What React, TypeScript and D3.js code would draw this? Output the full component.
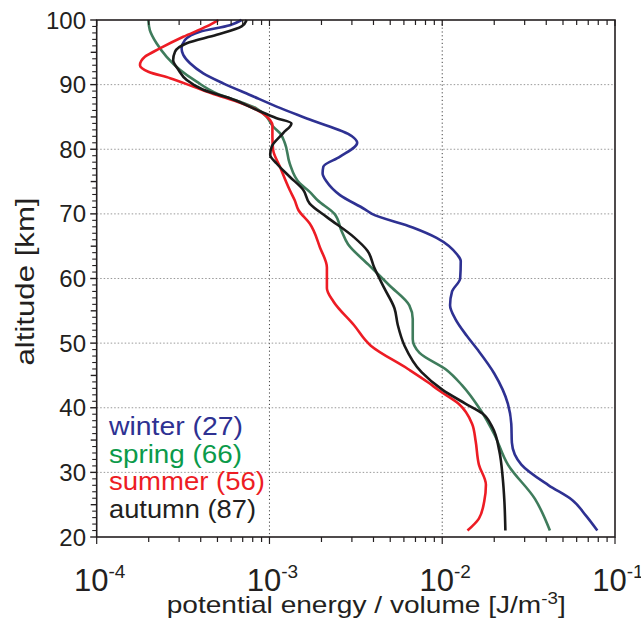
import React from "react";
import * as d3 from "d3";

const winterAlt = [100, 99.2, 98.2, 96.9, 95.6, 94.6, 93.3, 91.75, 90.2, 88.4, 86.6, 84.6, 82.05, 81.0, 78.85, 77.3, 76.3, 75.0, 72.9, 70.7, 70.0, 67.9, 66.3, 63.7, 62.7, 60.0, 58.0, 55.85, 53.75, 51.1, 49.0, 45.3, 40.6, 37.5, 34.6, 31.2, 28.0, 25.7, 23.3, 21];
const winterVal = [6.9e-4, 5.9e-4, 3.96e-4, 3.24e-4, 3.1e-4, 3.17e-4, 3.47e-4, 4.14e-4, 5.4e-4, 7.71e-4, 1.1e-3, 1.71e-3, 2.99e-3, 3.22e-3, 2.56e-3, 2.05e-3, 2.03e-3, 2.14e-3, 2.56e-3, 3.57e-3, 3.92e-3, 6.75e-3, 9.27e-3, 1.22e-2, 1.28e-2, 1.27e-2, 1.14e-2, 1.11e-2, 1.19e-2, 1.39e-2, 1.6e-2, 2.0e-2, 2.4e-2, 2.51e-2, 2.53e-2, 2.87e-2, 4.13e-2, 5.67e-2, 6.79e-2, 7.9e-2];

const springAlt = [100, 98.45, 96.4, 94.3, 92.3, 90.45, 88.65, 87.35, 86.3, 85.0, 83.5, 82.5, 80.9, 77.8, 74.7, 73.4, 72.1, 70.0, 67.4, 65.3, 62.15, 59.0, 55.85, 53.75, 50.6, 48.5, 45.85, 43.5, 39.6, 35.9, 31.2, 25.9, 21];
const springVal = [1.99e-4, 2.03e-4, 2.22e-4, 2.54e-4, 3.03e-4, 3.79e-4, 4.95e-4, 6.75e-4, 8.43e-4, 9.63e-4, 1.05e-3, 1.15e-3, 1.23e-3, 1.31e-3, 1.5e-3, 1.71e-3, 1.9e-3, 2.38e-3, 2.61e-3, 2.85e-3, 3.74e-3, 4.92e-3, 6.45e-3, 6.75e-3, 6.75e-3, 7.39e-3, 1.06e-2, 1.3e-2, 1.67e-2, 2.0e-2, 2.4e-2, 3.44e-2, 4.2e-2];

const summerAlt = [100, 99.0, 97.4, 95.6, 94.3, 93.0, 92.0, 91.0, 89.7, 88.4, 87.4, 86.1, 84.5, 83.75, 81.9, 79.9, 77.3, 73.7, 72.1, 70.6, 68.5, 64.8, 61.7, 58.5, 56.4, 52.8, 49.6, 46.0, 43.9, 42.75, 40.65, 37.5, 34.9, 31.2, 28.1, 25.5, 22.85, 21];
const summerVal = [5.06e-4, 4.33e-4, 3.17e-4, 2.32e-4, 1.9e-4, 1.78e-4, 1.99e-4, 2.66e-4, 3.62e-4, 4.95e-4, 6.46e-4, 8.43e-4, 1.01e-3, 1.04e-3, 1.04e-3, 1.05e-3, 1.15e-3, 1.31e-3, 1.4e-3, 1.47e-3, 1.71e-3, 1.96e-3, 2.15e-3, 2.15e-3, 2.35e-3, 3.08e-3, 3.86e-3, 6.33e-3, 8.3e-3, 9.5e-3, 1.24e-2, 1.49e-2, 1.56e-2, 1.63e-2, 1.79e-2, 1.75e-2, 1.63e-2, 1.4e-2];

const autumnAlt = [100, 99.0, 97.7, 96.4, 95.1, 93.8, 92.3, 90.7, 89.2, 87.9, 86.1, 84.8, 84.0, 82.5, 80.4, 79.1, 77.8, 75.75, 73.7, 71.6, 69.5, 66.4, 64.3, 61.7, 58.5, 55.4, 52.8, 49.6, 45.5, 42.8, 40.65, 39.1, 37.0, 33.3, 29.1, 25.5, 21];
const autumnVal = [7.38e-4, 6.9e-4, 4.95e-4, 3.32e-4, 2.84e-4, 2.77e-4, 2.97e-4, 3.32e-4, 4.14e-4, 5.91e-4, 8.43e-4, 1.1e-3, 1.34e-3, 1.2e-3, 1.03e-3, 1.01e-3, 1.1e-3, 1.31e-3, 1.57e-3, 1.71e-3, 2.15e-3, 3.08e-3, 3.69e-3, 4.04e-3, 4.62e-3, 5.29e-3, 5.53e-3, 6.05e-3, 7.59e-3, 1.0e-2, 1.36e-2, 1.71e-2, 1.95e-2, 2.14e-2, 2.24e-2, 2.29e-2, 2.32e-2];

const seasonNames = ["winter (27)", "spring (66)", "summer (56)", "autumn (87)"];
const lineColors = ["#2e3192", "#3f7c5c", "#ed1c24", "#1a1a1a"];
const textColors = ["#2e3192", "#0b9a4a", "#ed1c24", "#231f20"];
const xDecades = [1e-4, 1e-3, 1e-2, 1e-1];
const xExponents = ["-4", "-3", "-2", "-1"];
const yTickValues = [20, 30, 40, 50, 60, 70, 80, 90, 100];

const W = 641;
const H = 621;
const L = 96.7, R = 615, T = 20, B = 537;

export default function App() {
  const x = d3.scaleLog().domain([1e-4, 1e-1]).range([L, R]);
  const y = d3.scaleLinear().domain([20, 100]).range([B, T]);
  const FONT = "'Liberation Sans', Arial, Helvetica, sans-serif";

  const series = [
    { alt: winterAlt, val: winterVal },
    { alt: springAlt, val: springVal },
    { alt: summerAlt, val: summerVal },
    { alt: autumnAlt, val: autumnVal },
  ];
  const line = d3
    .line<[number, number]>()
    .x((d) => x(d[1]))
    .y((d) => y(d[0]))
    .curve(d3.curveMonotoneY);

  const xMinor: { v: number; major: boolean }[] = [];
  for (let i = 0; i < 3; i++) {
    for (let k = 1; k <= 9; k++) xMinor.push({ v: xDecades[i] * k, major: k === 1 });
  }
  xMinor.push({ v: 1e-1, major: true });

  const yTicks: { v: number; kind: number }[] = [];
  for (let a = 20; a <= 100; a++) yTicks.push({ v: a, kind: a % 10 === 0 ? 2 : a % 5 === 0 ? 1 : 0 });

  const legendWidths = [134, 133, 156, 147];
  const legendBase = [435, 462.5, 490, 517.5];

  return (
    <svg width={W} height={H} style={{ position: "absolute", left: 0, top: 0, background: "#fff" }}>
      <rect x={0} y={0} width={W} height={H} fill="#fff" />
      {/* grid */}
      {[1e-3, 1e-2].map((v) => (
        <line key={"gx" + v} x1={x(v)} x2={x(v)} y1={T} y2={B} stroke="#444" strokeWidth={1} strokeDasharray="1.2,2.6" />
      ))}
      {yTickValues.filter((v) => v > 20 && v < 100).map((v) => (
        <line key={"gy" + v} x1={L} x2={R} y1={y(v)} y2={y(v)} stroke="#999" strokeWidth={1} strokeDasharray="1.5,2" />
      ))}
      {/* curves */}
      {series.map((s, i) => (
        <path
          key={"s" + i}
          d={line(s.alt.map((a, j) => [a, s.val[j]] as [number, number])) || ""}
          fill="none"
          stroke={lineColors[i]}
          strokeWidth={2.6}
          strokeLinejoin="round"
        />
      ))}
      {/* frame */}
      <rect x={L} y={T} width={R - L} height={B - T} fill="none" stroke="#231f20" strokeWidth={1.6} />
      {/* x ticks bottom and top */}
      {xMinor.map((t, i) => (
        <g key={"xt" + i}>
          <line x1={x(t.v)} x2={x(t.v)} y1={B} y2={B + (t.major ? 7 : 5)} stroke="#231f20" strokeWidth={1.2} />
          <line x1={x(t.v)} x2={x(t.v)} y1={T} y2={T + (t.major ? 6 : 5)} stroke="#231f20" strokeWidth={1.2} />
        </g>
      ))}
      {/* y ticks */}
      {yTicks.map((t) => (
        <line
          key={"yt" + t.v}
          x1={L}
          x2={L - (t.kind === 2 ? 6.5 : t.kind === 1 ? 6 : 4.5)}
          y1={y(t.v)}
          y2={y(t.v)}
          stroke="#231f20"
          strokeWidth={t.kind > 0 ? 1.4 : 1.1}
        />
      ))}
      {/* y tick labels */}
      {yTickValues.map((v) => (
        <text key={"yl" + v} x={86} y={y(v) + 8.5} textAnchor="end" fontFamily={FONT} fontSize={24} fill="#231f20">
          {v}
        </text>
      ))}
      {/* x tick labels */}
      {xDecades.map((v, i) => (
        <text key={"xl" + i} x={x(v) + 3} y={591} textAnchor="middle" fontFamily={FONT} fontSize={31} fill="#231f20">
          10
          <tspan dy={-13} fontSize={19}>{xExponents[i]}</tspan>
        </text>
      ))}
      {/* axis titles */}
      <text
        x={166.7}
        y={613}
        fontFamily={FONT}
        fontSize={24}
        fill="#231f20"
        textLength={399}
        lengthAdjust="spacingAndGlyphs"
      >
        potential energy / volume [J/m
        <tspan dy={-9} fontSize={16}>-3</tspan>
        <tspan dy={9}>]</tspan>
      </text>
      <text
        transform={`translate(34, ${(T + B) / 2 + 3}) rotate(-90)`}
        textAnchor="middle"
        fontFamily={FONT}
        fontSize={26}
        fill="#231f20"
        textLength={168}
        lengthAdjust="spacingAndGlyphs"
      >
        altitude [km]
      </text>
      {/* legend */}
      {seasonNames.map((n, i) => (
        <text
          key={"lg" + i}
          x={109}
          y={legendBase[i]}
          fontFamily={FONT}
          fontSize={26}
          fill={textColors[i]}
          textLength={legendWidths[i]}
          lengthAdjust="spacingAndGlyphs"
        >
          {n}
        </text>
      ))}
    </svg>
  );
}
